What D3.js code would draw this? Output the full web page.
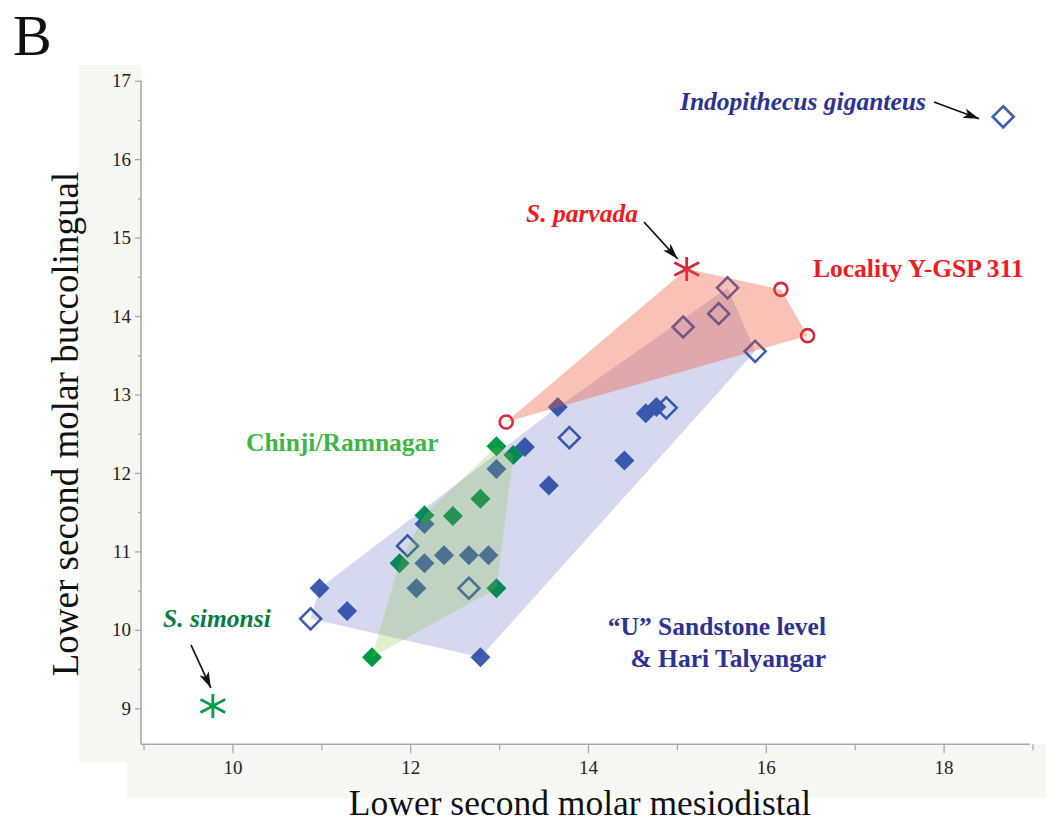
<!DOCTYPE html>
<html>
<head>
<meta charset="utf-8">
<script src="https://cdn.jsdelivr.net/npm/d3@7"></script>
<style>
  html, body { margin: 0; padding: 0; background: #fff; }
  svg { display: block; }
  text { font-family: "Liberation Serif", "Times New Roman", serif; }
</style>
</head>
<body>
<svg id="chart" width="1064" height="826"></svg>
<script>
// ---------------- DATA ----------------
// "U" Sandstone level & Hari Talyangar – filled diamonds
const uFilledX = [10.98, 11.29, 12.79, 12.07, 12.16, 12.38, 12.66, 12.88, 12.16, 12.97, 13.29, 13.66, 13.56, 14.41, 14.65, 14.77];
const uFilledY = [10.53, 10.24, 9.65, 10.53, 10.85, 10.95, 10.95, 10.95, 11.35, 12.05, 12.33, 12.84, 11.84, 12.16, 12.76, 12.84];
// "U" Sandstone level & Hari Talyangar – open diamonds
const uOpenX = [10.88, 11.97, 12.66, 13.79, 14.88, 15.07, 15.47, 15.57, 15.88];
const uOpenY = [10.14, 11.07, 10.53, 12.45, 12.83, 13.86, 14.03, 14.36, 13.55];
// Chinji / Ramnagar – filled green diamonds
const chinjiX = [11.57, 11.88, 12.16, 12.48, 12.79, 12.97, 13.16, 12.97];
const chinjiY = [9.65, 10.85, 11.46, 11.45, 11.67, 12.34, 12.23, 10.53];
// Locality Y-GSP 311 – open red circles
const ygspX = [13.08, 16.17, 16.47];
const ygspY = [12.65, 14.34, 13.75];
// Single specimens
const parvada = [15.11, 14.60];       // S. parvada (red asterisk)
const simonsi = [9.78, 9.03];         // S. simonsi (green asterisk)
const indopithecus = [18.67, 16.54];  // Indopithecus giganteus (open diamond)
// Axis ticks
const xMajorTicks = [10, 12, 14, 16, 18];
const xMinorTicks = [9, 11, 13, 15, 17, 19];
const yMajorTicks = [9, 10, 11, 12, 13, 14, 15, 16, 17];
const yMinorTicks = [9.5, 10.5, 11.5, 12.5, 13.5, 14.5, 15.5, 16.5];

// ---------------- SETUP ----------------
const svg = d3.select("#chart");
const x = d3.scaleLinear().domain([9, 19]).range([143.5, 1032.5]);
const y = d3.scaleLinear().domain([9, 17]).range([708.3, 80.7]);
const axisX0 = 141, axisY0 = 744.3;

const zip = (xs, ys) => xs.map((v, i) => [v, ys[i]]);
const uFilled = zip(uFilledX, uFilledY);
const uOpen = zip(uOpenX, uOpenY);
const chinji = zip(chinjiX, chinjiY);
const ygsp = zip(ygspX, ygspY);

const BLUE = "#3d5fae", GREEN = "#009a46", RED = "#d42a3c";

// background bands behind axes
svg.append("rect").attr("x", 79).attr("y", 65).attr("width", axisX0 - 79 + 1).attr("height", 762 - 65).attr("fill", "#f7f8f3");
svg.append("rect").attr("x", 127).attr("y", axisY0).attr("width", 1046 - 127).attr("height", 798 - axisY0).attr("fill", "#f7f8f3");

// panel letter
svg.append("text").attr("x", 13).attr("y", 55).attr("font-size", 58).attr("fill", "#111").text("B");

// ---------------- AXES ----------------
const axisColor = "#aaaaaa";
const gx = svg.append("g").attr("transform", `translate(0,${axisY0})`);
gx.call(d3.axisBottom(x).tickValues(xMajorTicks).tickSize(9).tickPadding(7).tickFormat(d3.format("d")));
const gx2 = svg.append("g").attr("transform", `translate(0,${axisY0})`);
gx2.call(d3.axisBottom(x).tickValues(xMinorTicks).tickSize(6).tickFormat(""));
const gy = svg.append("g").attr("transform", `translate(${axisX0},0)`);
gy.call(d3.axisLeft(y).tickValues(yMajorTicks).tickSize(6).tickPadding(4).tickFormat(d3.format("d")));
const gy2 = svg.append("g").attr("transform", `translate(${axisX0},0)`);
gy2.call(d3.axisLeft(y).tickValues(yMinorTicks).tickSize(3).tickFormat(""));
[gx, gx2, gy, gy2].forEach(g => {
  g.select(".domain").remove();
  g.selectAll("line").attr("stroke", axisColor).attr("stroke-width", 1.3);
  g.selectAll("text").attr("font-family", "Liberation Serif, serif").attr("font-size", 19).attr("fill", "#222");
});
svg.append("line").attr("x1", axisX0).attr("x2", axisX0).attr("y1", y(17)).attr("y2", axisY0)
  .attr("stroke", axisColor).attr("stroke-width", 1.6);
svg.append("line").attr("x1", axisX0).attr("x2", 1030).attr("y1", axisY0).attr("y2", axisY0)
  .attr("stroke", axisColor).attr("stroke-width", 1.6);

// axis titles
svg.append("text").attr("x", 580).attr("y", 815).attr("text-anchor", "middle")
  .attr("font-size", 35.5).attr("fill", "#111").text("Lower second molar mesiodistal");
svg.append("text").attr("transform", `translate(78,${424}) rotate(-90)`).attr("text-anchor", "middle")
  .attr("font-size", 37).attr("fill", "#111").text("Lower second molar buccolingual");

// ---------------- MARKS ----------------
const diamond = (r) => `M0,${-r}L${r},0L0,${r}L${-r},0Z`;
const star = (rv, rd, a) => {
  const c = Math.cos(a), s = Math.sin(a);
  return `M0,${-rv}L0,${rv}M${-rd * c},${-rd * s}L${rd * c},${rd * s}M${-rd * c},${rd * s}L${rd * c},${-rd * s}`;
};
const marks = svg.append("g");

marks.selectAll(".uf").data(uFilled).join("path").attr("class", "uf")
  .attr("transform", d => `translate(${x(d[0])},${y(d[1])})`)
  .attr("d", diamond(10)).attr("fill", BLUE);
marks.selectAll(".cf").data(chinji).join("path").attr("class", "cf")
  .attr("transform", d => `translate(${x(d[0])},${y(d[1])})`)
  .attr("d", diamond(10)).attr("fill", GREEN);
marks.selectAll(".uo").data(uOpen.concat([indopithecus])).join("path").attr("class", "uo")
  .attr("transform", d => `translate(${x(d[0])},${y(d[1])})`)
  .attr("d", diamond(10.5)).attr("fill", "none").attr("stroke", BLUE).attr("stroke-width", 2.6);
marks.selectAll(".yc").data(ygsp).join("circle").attr("class", "yc")
  .attr("cx", d => x(d[0])).attr("cy", d => y(d[1])).attr("r", 6.5)
  .attr("fill", "none").attr("stroke", RED).attr("stroke-width", 2.6);
marks.append("path").attr("transform", `translate(${x(parvada[0])},${y(parvada[1])})`)
  .attr("d", star(12, 14, 28 * Math.PI / 180)).attr("stroke", RED).attr("stroke-width", 2.8).attr("fill", "none");
marks.append("path").attr("transform", `translate(${x(simonsi[0])},${y(simonsi[1])})`)
  .attr("d", star(12, 14, 28 * Math.PI / 180)).attr("stroke", GREEN).attr("stroke-width", 2.8).attr("fill", "none");

// ---------------- HULLS (drawn translucent above points) ----------------
const hullPath = pts => "M" + d3.polygonHull(pts.map(d => [x(d[0]), y(d[1])])).join("L") + "Z";
svg.append("path").attr("d", hullPath(uFilled.concat(uOpen))).attr("fill", "#2b3ea8").attr("fill-opacity", 0.2);
svg.append("path").attr("d", hullPath(ygsp.concat([parvada]))).attr("fill", "#f05032").attr("fill-opacity", 0.35);
svg.append("path").attr("d", hullPath(chinji)).attr("fill", "#82be3c").attr("fill-opacity", 0.25);

// ---------------- ANNOTATIONS ----------------
const defs = svg.append("defs");
defs.append("marker").attr("id", "arrow").attr("viewBox", "0 0 16 10").attr("refX", 16).attr("refY", 5)
  .attr("markerWidth", 16).attr("markerHeight", 10).attr("markerUnits", "userSpaceOnUse").attr("orient", "auto")
  .append("path").attr("d", "M0,0L16,5L0,10L4,5Z").attr("fill", "#111");

const arrow = (x1, y1, x2, y2) => svg.append("line").attr("x1", x1).attr("y1", y1).attr("x2", x2).attr("y2", y2)
  .attr("stroke", "#111").attr("stroke-width", 1.7).attr("marker-end", "url(#arrow)");

const label = (tx, ty, txt, color, italic, anchor) => svg.append("text").attr("x", tx).attr("y", ty)
  .attr("font-size", 25.5).attr("font-weight", "bold").attr("font-style", italic ? "italic" : "normal")
  .attr("text-anchor", anchor || "start").attr("fill", color).text(txt);

label(680, 110, "Indopithecus giganteus", "#2e3192", true);
arrow(934, 102, x(indopithecus[0]) - 24, y(indopithecus[1]) + 2);

label(526, 222, "S. parvada", "#ec1c24", true);
arrow(644, 222, x(parvada[0]) - 9, y(parvada[1]) - 10);

label(813, 277, "Locality Y-GSP 311", "#ec1c24", false);

label(246, 451, "Chinji/Ramnagar", "#3db54a", false);

label(163, 627, "S. simonsi", "#0b7a3e", true);
arrow(191, 645, x(simonsi[0]) - 2, y(simonsi[1]) - 18);

label(826, 635, "\u201CU\u201D Sandstone level", "#2e3192", false, "end");
label(826, 667, "& Hari Talyangar", "#2e3192", false, "end");
</script>
</body>
</html>
